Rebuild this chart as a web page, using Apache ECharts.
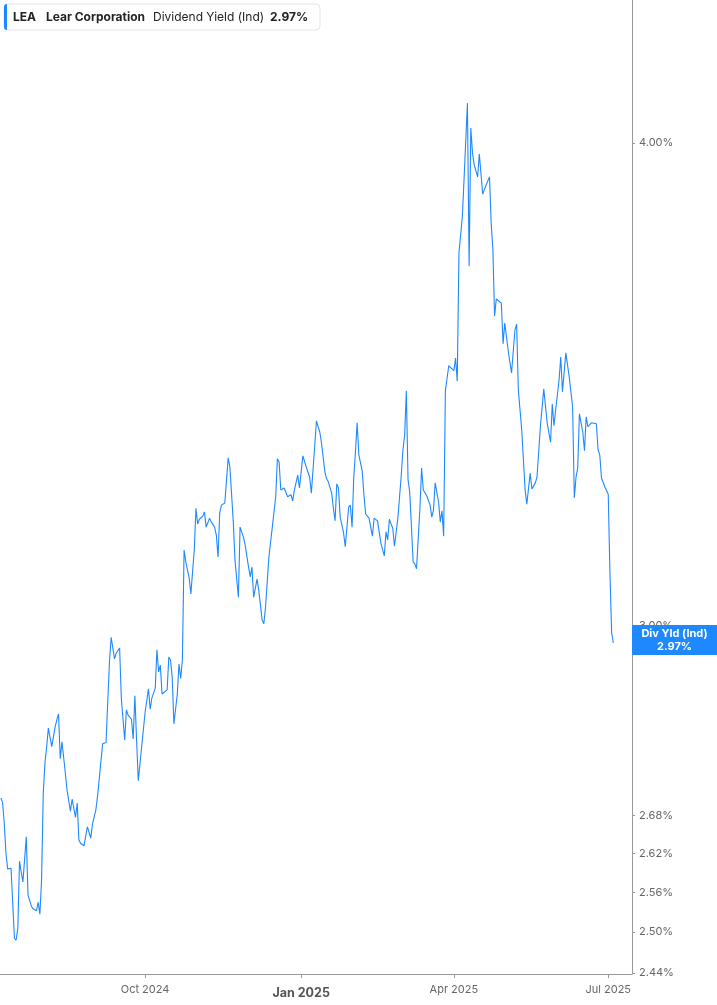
<!DOCTYPE html>
<html>
<head>
<meta charset="utf-8">
<script src="https://cdn.jsdelivr.net/npm/echarts@6/dist/echarts.min.js"></script>
<style>
html,body{margin:0;padding:0;background:#fff;}
#chart{width:717px;height:1005px;}
</style>
</head>
<body>
<div id="chart"></div>
<script>
const ticker = 'LEA';
const company = 'Lear Corporation';
const metric = 'Dividend Yield (Ind)';
const tagTitle = 'Div Yld (Ind)';

const dates = [
'2024-07-08','2024-07-09','2024-07-10','2024-07-11','2024-07-12','2024-07-13','2024-07-14','2024-07-16','2024-07-17','2024-07-18',
'2024-07-19','2024-07-20','2024-07-21','2024-07-23','2024-07-24','2024-07-26','2024-07-27','2024-07-29','2024-07-30','2024-07-31',
'2024-08-01','2024-08-02','2024-08-03','2024-08-04','2024-08-05','2024-08-07','2024-08-09','2024-08-10','2024-08-11','2024-08-12',
'2024-08-13','2024-08-15','2024-08-16','2024-08-18','2024-08-19','2024-08-21','2024-08-22','2024-08-23','2024-08-24','2024-08-26',
'2024-08-28','2024-08-30','2024-08-31','2024-09-02','2024-09-03','2024-09-04','2024-09-06','2024-09-07','2024-09-08','2024-09-10',
'2024-09-11','2024-09-13','2024-09-14','2024-09-16','2024-09-17','2024-09-18','2024-09-19','2024-09-20','2024-09-21','2024-09-23',
'2024-09-24','2024-09-25','2024-09-26','2024-09-27','2024-09-29','2024-10-01','2024-10-02','2024-10-03','2024-10-04','2024-10-05',
'2024-10-07','2024-10-08','2024-10-09','2024-10-10','2024-10-11','2024-10-12','2024-10-14','2024-10-15','2024-10-16','2024-10-17',
'2024-10-18','2024-10-20','2024-10-21','2024-10-22','2024-10-23','2024-10-24','2024-10-25','2024-10-27','2024-10-28','2024-10-30',
'2024-10-31','2024-11-01','2024-11-02','2024-11-04','2024-11-05','2024-11-06','2024-11-07','2024-11-08','2024-11-09','2024-11-11',
'2024-11-12','2024-11-13','2024-11-14','2024-11-15','2024-11-17','2024-11-18','2024-11-19','2024-11-20','2024-11-22','2024-11-23',
'2024-11-25','2024-11-26','2024-11-28','2024-11-29','2024-12-01','2024-12-02','2024-12-03','2024-12-04','2024-12-06','2024-12-07',
'2024-12-08','2024-12-09','2024-12-10','2024-12-11','2024-12-13','2024-12-15','2024-12-17','2024-12-18','2024-12-19','2024-12-20',
'2024-12-22','2024-12-23','2024-12-24','2024-12-26','2024-12-27','2024-12-28','2024-12-30','2024-12-31','2025-01-01','2025-01-02',
'2025-01-04','2025-01-06','2025-01-07','2025-01-09','2025-01-10','2025-01-12','2025-01-13','2025-01-15','2025-01-16','2025-01-17',
'2025-01-19','2025-01-20','2025-01-21','2025-01-22','2025-01-23','2025-01-24','2025-01-26','2025-01-27','2025-01-29','2025-01-30',
'2025-01-31','2025-02-01','2025-02-02','2025-02-03','2025-02-04','2025-02-06','2025-02-07','2025-02-08','2025-02-09','2025-02-10',
'2025-02-12','2025-02-13','2025-02-14','2025-02-15','2025-02-16','2025-02-17','2025-02-19','2025-02-20','2025-02-21','2025-02-22',
'2025-02-23','2025-02-24','2025-02-25','2025-02-27','2025-03-01','2025-03-02','2025-03-03','2025-03-04','2025-03-05','2025-03-06',
'2025-03-08','2025-03-09','2025-03-10','2025-03-12','2025-03-13','2025-03-14','2025-03-16','2025-03-18','2025-03-19','2025-03-20',
'2025-03-21','2025-03-23','2025-03-24','2025-03-25','2025-03-26','2025-03-27','2025-03-29','2025-03-30','2025-04-01','2025-04-02',
'2025-04-03','2025-04-04','2025-04-06','2025-04-07','2025-04-09','2025-04-10','2025-04-11','2025-04-12','2025-04-13','2025-04-15',
'2025-04-16','2025-04-18','2025-04-20','2025-04-22','2025-04-23','2025-04-24','2025-04-25','2025-04-26','2025-04-27','2025-04-29',
'2025-04-30','2025-05-01','2025-05-02','2025-05-03','2025-05-04','2025-05-05','2025-05-07','2025-05-08','2025-05-09','2025-05-11',
'2025-05-13','2025-05-14','2025-05-16','2025-05-17','2025-05-19','2025-05-20','2025-05-22','2025-05-24','2025-05-25','2025-05-26',
'2025-05-28','2025-05-29','2025-05-30','2025-05-31','2025-06-02','2025-06-03','2025-06-04','2025-06-06','2025-06-08','2025-06-10',
'2025-06-11','2025-06-12','2025-06-13','2025-06-14','2025-06-16','2025-06-17','2025-06-18','2025-06-19','2025-06-21','2025-06-24',
'2025-06-25','2025-06-26','2025-06-27','2025-06-29','2025-07-01','2025-07-02','2025-07-03','2025-07-04'
];

const yields = [
2.708,2.701,2.668,2.621,2.596,2.597,2.597,2.491,2.488,2.506,
2.608,2.591,2.576,2.646,2.556,2.539,2.535,2.532,2.545,2.527,
2.579,2.716,2.765,2.792,2.823,2.792,2.825,2.837,2.847,2.772,
2.800,2.749,2.721,2.687,2.706,2.677,2.700,2.641,2.636,2.632,
2.662,2.644,2.666,2.689,2.711,2.711,2.797,2.798,2.799,2.936,
2.980,2.942,2.952,2.961,2.874,2.876,2.803,2.854,2.845,2.838,
2.805,2.878,2.803,2.736,2.792,2.849,2.849,2.890,2.855,2.874,
2.891,2.958,2.919,2.931,2.881,2.884,2.888,2.945,2.940,2.910,
2.830,2.881,2.933,2.908,2.940,3.139,3.117,3.087,3.058,3.139,
3.218,3.188,3.197,3.203,3.211,3.182,3.179,3.199,3.192,3.182,
3.167,3.126,3.209,3.224,3.228,3.230,3.316,3.298,3.192,3.120,
3.052,3.182,3.163,3.148,3.107,3.089,3.107,3.052,3.085,3.065,
3.038,3.011,3.004,3.034,3.126,3.182,3.240,3.314,3.308,3.253,
3.257,3.259,3.240,3.244,3.232,3.253,3.282,3.257,3.288,3.320,
3.298,3.278,3.247,3.340,3.390,3.367,3.345,3.288,3.275,3.269,
3.247,3.218,3.194,3.265,3.257,3.201,3.171,3.145,3.220,3.224,
3.182,3.278,3.328,3.386,3.322,3.290,3.244,3.207,3.203,3.199,
3.165,3.199,3.199,3.194,3.173,3.152,3.128,3.173,3.158,3.197,
3.188,3.180,3.146,3.199,3.282,3.332,3.361,3.451,3.273,3.249,
3.117,3.113,3.104,3.218,3.296,3.253,3.242,3.224,3.201,3.215,
3.267,3.230,3.192,3.213,3.165,3.451,3.503,3.499,3.493,3.519,
3.471,3.746,3.828,3.913,4.096,3.717,4.036,3.976,3.948,3.920,
3.974,3.880,3.901,3.920,3.814,3.755,3.608,3.645,3.643,3.636,
3.549,3.593,3.593,3.536,3.511,3.488,3.578,3.591,3.453,3.372,
3.253,3.226,3.286,3.255,3.267,3.278,3.378,3.455,3.420,3.386,
3.347,3.424,3.380,3.412,3.473,3.521,3.449,3.530,3.480,3.418,
3.238,3.278,3.296,3.404,3.367,3.330,3.398,3.378,3.386,3.384,
3.332,3.322,3.277,3.259,3.245,3.096,2.988,2.970
];

const yTickValues = [2.44, 2.50, 2.56, 2.62, 2.68, 3.00, 4.00];
const xTickDates = ['2024-10-01', '2025-01-01', '2025-04-01', '2025-07-01'];
const xRange = ['2024-07-07', '2025-07-15'];
const yRange = [2.4385, 4.3555];
const currentYield = 2.97;

const BLUE = '#1E88FF';
const AXIS = '#999999';
const LABEL = '#666666';
const FONT = 'Inter, "Noto Sans", sans-serif';
const MONTHS = ['Jan','Feb','Mar','Apr','May','Jun','Jul','Aug','Sep','Oct','Nov','Dec'];

// dates -> UTC timestamps
const toT = s => { const p = s.split('-').map(Number); return Date.UTC(p[0], p[1] - 1, p[2]); };

const chart = echarts.init(document.getElementById('chart'), null, {renderer: 'canvas'});

const seriesData = dates.map((d, i) => [toT(d), Math.log(yields[i])]);
const xTicks = xTickDates.map(toT);
const yTicks = yTickValues.map(Math.log);

chart.setOption({
  animation: false,
  backgroundColor: '#ffffff',
  textStyle: {fontFamily: FONT},
  grid: {left: 0, right: 85, top: 0, bottom: 31, containLabel: false},
  xAxis: {
    type: 'value',
    min: toT(xRange[0]) + 12 * 3600 * 1000,
    max: toT(xRange[1]),
    axisLine: {show: true, lineStyle: {color: AXIS, width: 1}},
    axisTick: {show: true, customValues: xTicks, length: 4, lineStyle: {color: AXIS}},
    splitLine: {show: false},
    axisLabel: {
      customValues: xTicks,
      color: LABEL,
      fontSize: 11,
      fontFamily: FONT,
      margin: 10,
      showMinLabel: true,
      showMaxLabel: true,
      formatter: function (v) {
        const d = new Date(v);
        const m = d.getUTCMonth();
        const txt = MONTHS[m] + ' ' + d.getUTCFullYear();
        return m === 0 ? '{b|' + txt + '}' : txt;
      },
      rich: {b: {fontWeight: 'bold', fontSize: 12.5, color: '#555555', fontFamily: FONT, padding: [3, 0, 0, 0]}}
    }
  },
  yAxis: {
    type: 'value',
    position: 'right',
    min: Math.log(yRange[0]),
    max: Math.log(yRange[1]),
    axisLine: {show: true, lineStyle: {color: AXIS, width: 1}},
    axisTick: {show: true, customValues: yTicks, length: 3, lineStyle: {color: AXIS}},
    splitLine: {show: false},
    axisLabel: {
      customValues: yTicks,
      color: LABEL,
      fontSize: 11,
      fontFamily: FONT,
      margin: 7,
      formatter: v => Math.exp(v).toFixed(2) + '%'
    }
  },
  series: [{
    type: 'line',
    data: seriesData,
    symbol: 'none',
    lineStyle: {color: BLUE, width: 1.1},
    z: 3
  }],
  graphic: [
    {type: 'rect', id: 'lgBox', x: 4, y: 4, shape: {width: 316, height: 26, r: 4}, style: {fill: '#ffffff', stroke: '#e4e4e4', lineWidth: 1}, z: 10},
    {type: 'rect', id: 'lgBar', x: 4, y: 4, shape: {width: 3, height: 26, r: [3, 0, 0, 3]}, style: {fill: BLUE}, z: 11},
    {type: 'text', id: 'lg1', x: 13, y: 17, style: {text: ticker, fontFamily: FONT, fontSize: 12, fontWeight: 'bold', fill: '#222222', verticalAlign: 'middle'}, z: 11},
    {type: 'text', id: 'lg2', x: 46, y: 17, style: {text: company, fontFamily: FONT, fontSize: 12, fontWeight: 'bold', fill: '#222222', verticalAlign: 'middle'}, z: 11},
    {type: 'text', id: 'lg3', x: 153, y: 17, style: {text: metric, fontFamily: FONT, fontSize: 12, fill: '#222222', verticalAlign: 'middle'}, z: 11},
    {type: 'text', id: 'lg4', x: 270, y: 17, style: {text: currentYield.toFixed(2) + '%', fontFamily: FONT, fontSize: 12, fontWeight: 'bold', fill: '#222222', verticalAlign: 'middle'}, z: 11}
  ]
});

// value tag on the right axis, positioned through the axis scale
const tagY = chart.convertToPixel({yAxisIndex: 0}, Math.log(currentYield));
const gridRight = 717 - 85;
chart.setOption({
  graphic: [
    {type: 'rect', id: 'tagBox', x: gridRight, y: tagY - 18, shape: {width: 85, height: 30}, style: {fill: BLUE}, z: 20},
    {type: 'text', id: 'tagText', x: gridRight + 42.5, y: tagY - 3, style: {
      text: tagTitle + '\n' + currentYield.toFixed(2) + '%',
      fontFamily: FONT, fontSize: 11, fontWeight: 'bold', fill: '#ffffff',
      align: 'center', verticalAlign: 'middle', lineHeight: 13
    }, z: 21}
  ]
});
</script>
</body>
</html>
